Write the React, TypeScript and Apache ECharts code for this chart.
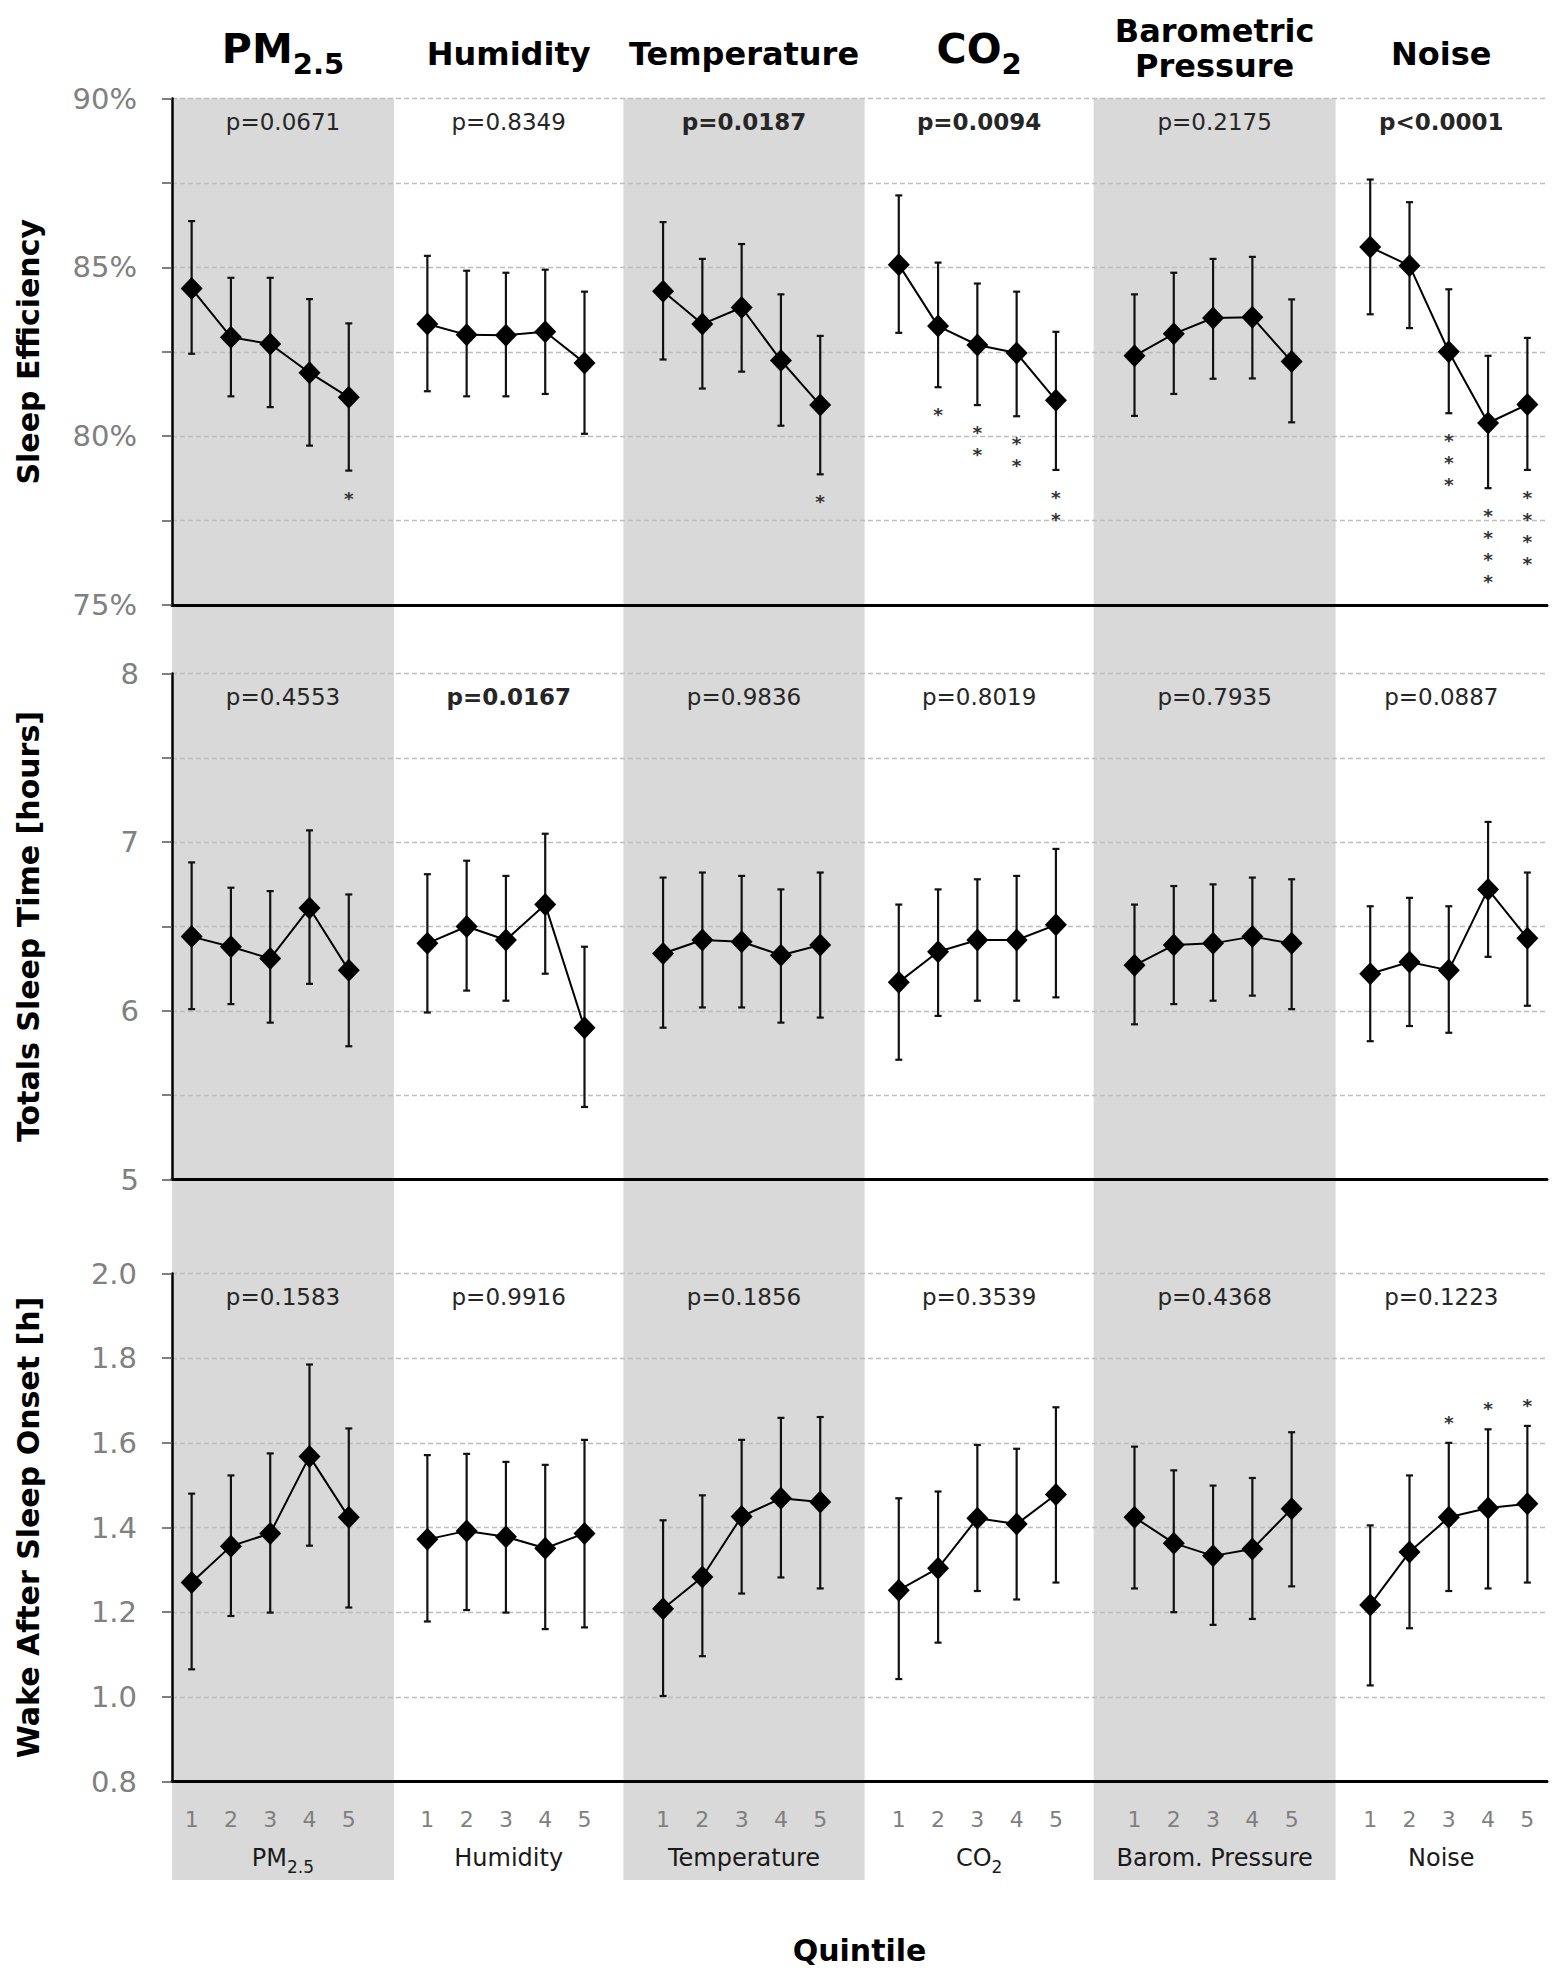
import React, { useEffect, useRef } from 'react';
import * as echarts from 'echarts';

// ---------- data ----------
const groupNames = ['PM2.5', 'Humidity', 'Temperature', 'CO2', 'Barometric Pressure', 'Noise'];
const bottomNames = ['PM2.5', 'Humidity', 'Temperature', 'CO2', 'Barom. Pressure', 'Noise'];
const quintileLabels = ['1', '2', '3', '4', '5'];
// background band edges, in quintile-slot units (6 slots per group, 35 slots total)
const bandEdges = [0, 5.65, 11.49, 17.63, 23.46, 29.62, 35];

// Sleep efficiency (%)
const seMean = [
  [84.37, 82.93, 82.73, 81.88, 81.15],
  [83.32, 83.0, 82.99, 83.09, 82.17],
  [84.29, 83.32, 83.81, 82.24, 80.92],
  [85.08, 83.26, 82.7, 82.46, 81.06],
  [82.38, 83.03, 83.5, 83.52, 82.21],
  [85.6, 85.05, 82.5, 80.39, 80.94],
];
const seLow = [
  [82.44, 81.18, 80.86, 79.72, 78.98],
  [81.33, 81.18, 81.18, 81.25, 80.07],
  [82.27, 81.41, 81.91, 80.31, 78.87],
  [83.06, 81.45, 80.92, 80.59, 79.0],
  [80.6, 81.25, 81.7, 81.71, 80.41],
  [83.61, 83.2, 80.68, 78.46, 79.0],
];
const seHigh = [
  [86.37, 84.69, 84.69, 84.06, 83.34],
  [85.34, 84.9, 84.84, 84.93, 84.28],
  [86.34, 85.25, 85.69, 84.2, 82.97],
  [87.13, 85.14, 84.52, 84.28, 83.09],
  [84.2, 84.84, 85.25, 85.31, 84.05],
  [87.6, 86.93, 84.35, 82.38, 82.91],
];
const seStars = [
  [0, 0, 0, 0, 1],
  [0, 0, 0, 0, 0],
  [0, 0, 0, 0, 1],
  [0, 1, 2, 2, 2],
  [0, 0, 0, 0, 0],
  [0, 0, 3, 4, 4],
];
const seP = ['p=0.0671', 'p=0.8349', 'p=0.0187', 'p=0.0094', 'p=0.2175', 'p<0.0001'];
const seBold = [false, false, true, true, false, true];

// Total sleep time (hours)
const tstMean = [
  [6.44, 6.38, 6.31, 6.61, 6.24],
  [6.4, 6.5, 6.42, 6.63, 5.9],
  [6.34, 6.42, 6.41, 6.33, 6.39],
  [6.17, 6.35, 6.42, 6.42, 6.51],
  [6.27, 6.39, 6.4, 6.44, 6.4],
  [6.22, 6.29, 6.24, 6.72, 6.43],
];
const tstLow = [
  [6.01, 6.04, 5.93, 6.16, 5.79],
  [5.99, 6.12, 6.06, 6.22, 5.43],
  [5.9, 6.02, 6.02, 5.93, 5.96],
  [5.71, 5.97, 6.06, 6.06, 6.08],
  [5.92, 6.04, 6.06, 6.09, 6.01],
  [5.82, 5.91, 5.87, 6.32, 6.03],
];
const tstHigh = [
  [6.88, 6.73, 6.71, 7.07, 6.69],
  [6.81, 6.89, 6.8, 7.05, 6.38],
  [6.79, 6.82, 6.8, 6.72, 6.82],
  [6.63, 6.72, 6.78, 6.8, 6.96],
  [6.63, 6.74, 6.75, 6.79, 6.78],
  [6.62, 6.67, 6.62, 7.12, 6.82],
];
const tstStars = [
  [0, 0, 0, 0, 0],
  [0, 0, 0, 0, 0],
  [0, 0, 0, 0, 0],
  [0, 0, 0, 0, 0],
  [0, 0, 0, 0, 0],
  [0, 0, 0, 0, 0],
];
const tstP = ['p=0.4553', 'p=0.0167', 'p=0.9836', 'p=0.8019', 'p=0.7935', 'p=0.0887'];
const tstBold = [false, true, false, false, false, false];

// Wake after sleep onset (h)
const wasoMean = [
  [1.27, 1.356, 1.386, 1.568, 1.424],
  [1.372, 1.392, 1.378, 1.351, 1.386],
  [1.208, 1.283, 1.426, 1.469, 1.46],
  [1.252, 1.304, 1.422, 1.408, 1.478],
  [1.424, 1.363, 1.333, 1.349, 1.444],
  [1.217, 1.342, 1.424, 1.446, 1.456],
];
const wasoLow = [
  [1.065, 1.191, 1.199, 1.357, 1.211],
  [1.178, 1.205, 1.199, 1.16, 1.164],
  [1.002, 1.096, 1.244, 1.282, 1.256],
  [1.042, 1.128, 1.25, 1.23, 1.27],
  [1.256, 1.2, 1.17, 1.184, 1.261],
  [1.027, 1.162, 1.25, 1.256, 1.27],
];
const wasoHigh = [
  [1.48, 1.523, 1.575, 1.785, 1.634],
  [1.571, 1.574, 1.555, 1.548, 1.607],
  [1.417, 1.476, 1.607, 1.659, 1.661],
  [1.469, 1.485, 1.595, 1.586, 1.684],
  [1.591, 1.535, 1.499, 1.517, 1.625],
  [1.405, 1.523, 1.6, 1.632, 1.64],
];
const wasoStars = [
  [0, 0, 0, 0, 0],
  [0, 0, 0, 0, 0],
  [0, 0, 0, 0, 0],
  [0, 0, 0, 0, 0],
  [0, 0, 0, 0, 0],
  [0, 0, 1, 1, 1],
];
const wasoP = ['p=0.1583', 'p=0.9916', 'p=0.1856', 'p=0.3539', 'p=0.4368', 'p=0.1223'];
const wasoBold = [false, false, false, false, false, false];

// ---------- styling / layout ----------
const FONT = 'DejaVu Sans';
const PLOT_LEFT = 172;
const PLOT_WIDTH = 1375;
const BAND_COLOR = '#d9d9d9';
const STAR_STEP = 22;
const STAR_SIZE = 18.5;

const slotX = (g: number, i: number) => g * 6 + i + 0.5;
const bandCenter = (g: number) => (bandEdges[g] + bandEdges[g + 1]) / 2;

type Panel = {
  mean: number[][];
  low: number[][];
  high: number[][];
  stars: number[][];
  starsBelow: boolean;
  pvals: string[];
  pBold: boolean[];
  min: number;
  max: number;
  interval: number;
  fmt: (v: number) => string;
  title: string;
  top: number;
  height: number;
  labelMargin: number;
};

const panels: Panel[] = [
  {
    mean: seMean, low: seLow, high: seHigh, stars: seStars, starsBelow: true,
    pvals: seP, pBold: seBold, min: 75, max: 90, interval: 2.5,
    fmt: (v) => (Math.abs(v % 5) < 1e-6 ? `${Math.round(v)}%` : ''),
    title: 'Sleep Efficiency', top: 98.5, height: 506.5, labelMargin: 35,
  },
  {
    mean: tstMean, low: tstLow, high: tstHigh, stars: tstStars, starsBelow: false,
    pvals: tstP, pBold: tstBold, min: 5, max: 8, interval: 0.5,
    fmt: (v) => (Math.abs(v - Math.round(v)) < 1e-6 ? String(Math.round(v)) : ''),
    title: 'Totals Sleep Time [hours]', top: 673.5, height: 506, labelMargin: 33,
  },
  {
    mean: wasoMean, low: wasoLow, high: wasoHigh, stars: wasoStars, starsBelow: false,
    pvals: wasoP, pBold: wasoBold, min: 0.8, max: 2.0, interval: 0.2,
    fmt: (v) => v.toFixed(1),
    title: 'Wake After Sleep Onset [h]', top: 1273.5, height: 508, labelMargin: 35,
  },
];

function headerText(name: string) {
  if (name === 'PM2.5') return '{b|PM}{s|2.5}';
  if (name === 'CO2') return '{b|CO}{s|2}';
  return name.split(' ').map((w) => `{n|${w}}`).join('\n');
}
function bottomText(name: string) {
  if (name === 'PM2.5') return '{r|PM}{rs|2.5}';
  if (name === 'CO2') return '{r|CO}{rs|2}';
  return `{r|${name}}`;
}

const headerRich = {
  b: { fontSize: 41, fontWeight: 'bold', fontFamily: FONT, fill: '#000', lineHeight: 60 },
  s: { fontSize: 29, fontWeight: 'bold', fontFamily: FONT, fill: '#000', lineHeight: 29, verticalAlign: 'bottom' },
  n: { fontSize: 32, fontWeight: 'bold', fontFamily: FONT, fill: '#000', lineHeight: 35.5 },
};
const bottomRich = {
  r: { fontSize: 24, fontFamily: FONT, fill: '#1a1a1a', lineHeight: 34 },
  rs: { fontSize: 17, fontFamily: FONT, fill: '#1a1a1a', lineHeight: 17, verticalAlign: 'bottom' },
};

function buildOption() {
  const grid: any[] = [
    { left: PLOT_LEFT, width: PLOT_WIDTH, top: 98.5, height: 1781.5 },
  ];
  const xAxis: any[] = [
    { gridIndex: 0, type: 'value', min: 0, max: 35, show: false },
  ];
  const yAxis: any[] = [
    { gridIndex: 0, type: 'value', min: 0, max: 1, show: false },
  ];
  const series: any[] = [];

  // background bands
  const bandData = [0, 2, 4].map((g) => [bandEdges[g], bandEdges[g + 1]]);
  series.push({
    type: 'custom', xAxisIndex: 0, yAxisIndex: 0, z: 1, silent: true,
    data: bandData, encode: { x: [0, 1] },
    renderItem: (_p: any, api: any) => {
      const a = api.coord([api.value(0), 1]);
      const b = api.coord([api.value(1), 0]);
      return { type: 'rect', shape: { x: a[0], y: a[1], width: b[0] - a[0], height: b[1] - a[1] }, style: { fill: BAND_COLOR } };
    },
  });
  // headers and bottom group names
  series.push({
    type: 'custom', xAxisIndex: 0, yAxisIndex: 0, z: 6, silent: true,
    data: groupNames.map((_, g) => [bandCenter(g), 0.5, g]),
    encode: { x: 0, y: 1 },
    renderItem: (_p: any, api: any) => {
      const g = api.value(2);
      const top = api.coord([api.value(0), 1]);
      const bot = api.coord([api.value(0), 0]);
      const name = groupNames[g];
      const single = !name.includes(' ') && name !== 'PM2.5' && name !== 'CO2';
      return {
        type: 'group',
        children: [
          {
            type: 'text', x: top[0], y: top[1] - (single ? 45 : 50),
            style: { text: headerText(name), rich: headerRich, align: 'center', verticalAlign: 'middle' },
          },
          {
            type: 'text', x: bot[0], y: bot[1] - 22,
            style: { text: bottomText(bottomNames[g]), rich: bottomRich, align: 'center', verticalAlign: 'middle' },
          },
        ],
      };
    },
  });

  panels.forEach((p, k) => {
    const gi = k + 1;
    const isLast = k === panels.length - 1;
    grid.push({ left: PLOT_LEFT, width: PLOT_WIDTH, top: p.top, height: p.height });
    xAxis.push({
      gridIndex: gi, type: 'value', min: 0, max: 35, interval: 0.5, z: 3,
      axisLine: { show: true, onZero: false, lineStyle: { color: '#000', width: 3 } },
      axisTick: { show: false },
      splitLine: { show: false },
      axisLabel: {
        show: isLast, margin: 27, color: '#7f7f7f', fontSize: 22, fontFamily: FONT,
        formatter: (v: number) => {
          const s = v - 0.5;
          const r = Math.round(s);
          if (Math.abs(s - r) > 0.01 || r < 0) return '';
          const pos = r % 6;
          return pos < 5 ? quintileLabels[pos] : '';
        },
      },
    });
    yAxis.push({
      gridIndex: gi, type: 'value', min: p.min, max: p.max, interval: p.interval, z: 3,
      axisLine: { show: true, lineStyle: { color: '#000', width: 2.5 } },
      axisTick: { show: true, length: 10, lineStyle: { color: '#555', width: 1.5 } },
      axisLabel: { margin: p.labelMargin, color: '#808080', fontSize: 29, fontFamily: FONT, formatter: p.fmt },
      splitLine: { show: true, lineStyle: { color: '#bdbdbd', width: 1.3, type: [5, 3] } },
      name: p.title, nameLocation: 'middle', nameRotate: 90, nameGap: 129,
      nameTextStyle: { fontFamily: FONT, fontWeight: 'bold', fontSize: 30, color: '#000' },
    });

    // error bars
    const errData: number[][] = [];
    p.mean.forEach((arr, g) => arr.forEach((_v, i) => errData.push([slotX(g, i), p.low[g][i], p.high[g][i]])));
    series.push({
      type: 'custom', xAxisIndex: gi, yAxisIndex: gi, z: 4, silent: true,
      data: errData, encode: { x: 0, y: [1, 2] },
      renderItem: (_p: any, api: any) => {
        const lo = api.coord([api.value(0), api.value(1)]);
        const hi = api.coord([api.value(0), api.value(2)]);
        const cw = 3.5;
        const st = { stroke: '#111', lineWidth: 2.2 };
        return {
          type: 'group',
          children: [
            { type: 'line', shape: { x1: lo[0], y1: lo[1], x2: hi[0], y2: hi[1] }, style: st },
            { type: 'line', shape: { x1: lo[0] - cw, y1: lo[1], x2: lo[0] + cw, y2: lo[1] }, style: st },
            { type: 'line', shape: { x1: hi[0] - cw, y1: hi[1], x2: hi[0] + cw, y2: hi[1] }, style: st },
          ],
        };
      },
    });

    // mean lines with diamond markers
    p.mean.forEach((arr, g) => {
      series.push({
        type: 'line', xAxisIndex: gi, yAxisIndex: gi, z: 5, silent: true,
        data: arr.map((v, i) => [slotX(g, i), v]),
        symbol: 'diamond', symbolSize: [22, 23], showAllSymbol: true,
        itemStyle: { color: '#000' },
        lineStyle: { color: '#000', width: 2 },
      });
    });

    // significance stars, stacked away from the error bar end
    const starData: number[][] = [];
    p.stars.forEach((arr, g) =>
      arr.forEach((c, i) => {
        if (c > 0) starData.push([slotX(g, i), p.starsBelow ? p.low[g][i] : p.high[g][i], c]);
      })
    );
    if (starData.length) {
      const dir = p.starsBelow ? 1 : -1;
      series.push({
        type: 'custom', xAxisIndex: gi, yAxisIndex: gi, z: 6, silent: true,
        data: starData, encode: { x: 0, y: 1 },
        renderItem: (_p: any, api: any) => {
          const base = api.coord([api.value(0), api.value(1)]);
          const n = api.value(2);
          const children: any[] = [];
          for (let j = 0; j < n; j++) {
            children.push({
              type: 'text', x: base[0], y: base[1] + dir * (24 + j * STAR_STEP) + 3.5,
              style: {
                text: '*', fontSize: STAR_SIZE, fontWeight: 'bold', fontFamily: FONT, fill: '#333',
                align: 'center', verticalAlign: 'middle',
              },
            });
          }
          return { type: 'group', children };
        },
      });
    }

    // p-values
    series.push({
      type: 'custom', xAxisIndex: gi, yAxisIndex: gi, z: 6, silent: true,
      data: groupNames.map((_, g) => [bandCenter(g), p.max, g]),
      encode: { x: 0, y: 1 },
      renderItem: (_p: any, api: any) => {
        const c = api.coord([api.value(0), api.value(1)]);
        const g = api.value(2);
        return {
          type: 'text', x: c[0], y: c[1] + 23,
          style: {
            text: p.pvals[g], fontSize: 23, fontFamily: FONT,
            fontWeight: p.pBold[g] ? 'bold' : 'normal', fill: '#262626',
            align: 'center', verticalAlign: 'middle',
          },
        };
      },
    });
  });

  return {
    animation: false,
    backgroundColor: '#fff',
    grid,
    xAxis,
    yAxis,
    series,
    graphic: [
      {
        type: 'text', x: PLOT_LEFT + PLOT_WIDTH / 2, y: 1950,
        style: { text: 'Quintile', fontSize: 30, fontWeight: 'bold', fontFamily: FONT, fill: '#000', align: 'center', verticalAlign: 'middle' },
      },
    ],
  };
}

export default function App() {
  const ref = useRef<HTMLDivElement>(null);
  useEffect(() => {
    const chart = echarts.init(ref.current as HTMLDivElement, null, { renderer: 'svg' });
    chart.setOption(buildOption() as any);
    return () => chart.dispose();
  }, []);
  return (
    <div
      ref={ref}
      style={{ position: 'absolute', left: 0, top: 0, width: 1553, height: 1980, background: '#fff' }}
    />
  );
}
